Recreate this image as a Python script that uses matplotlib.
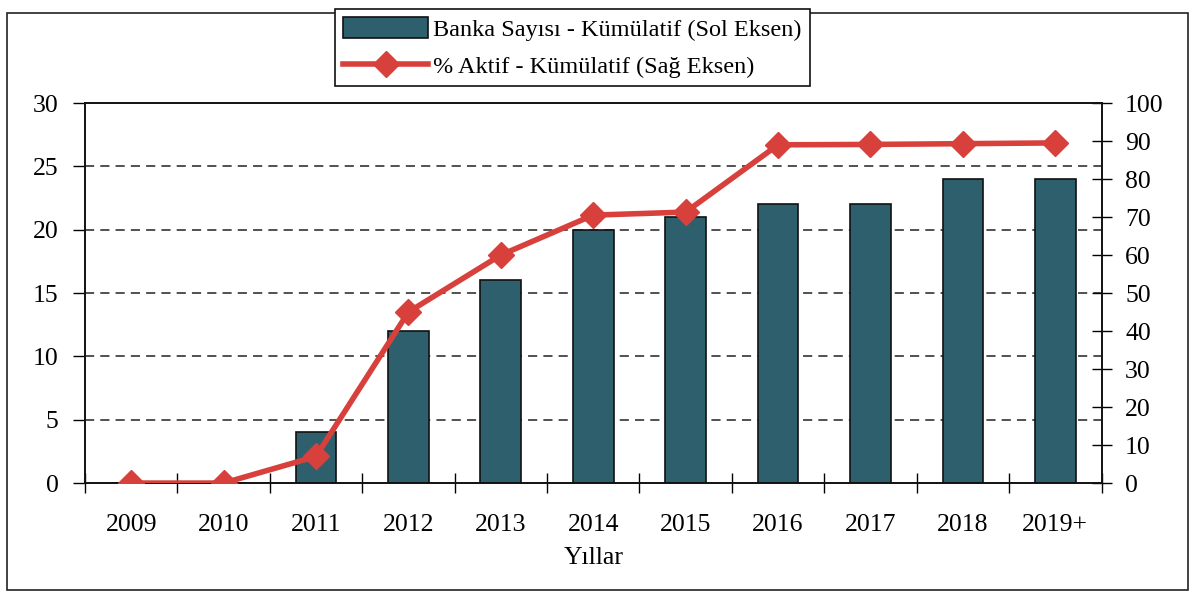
import numpy as np
import matplotlib.pyplot as plt
from matplotlib.patches import Rectangle

plt.rcParams['font.family'] = ['Liberation Serif', 'DejaVu Serif']

years = ['2009', '2010', '2011', '2012', '2013', '2014', '2015', '2016', '2017', '2018', '2019+']
bank_count = [0, 0, 4, 12, 16, 20, 21, 22, 22, 24, 24]          # left axis
asset_share = [0, 0, 7, 45, 60, 70.5, 71.3, 89.0, 89.1, 89.3, 89.5]  # right axis, %

bar_color = '#2e5f6d'
line_color = '#d8403c'

fig = plt.figure(figsize=(11.96, 5.92), dpi=100)
ax = fig.add_axes([0.071, 0.184, 0.850, 0.642])
ax2 = ax.twinx()

x = np.arange(len(years))
bars = ax.bar(x, bank_count, width=0.44, color=bar_color, edgecolor='#111111', linewidth=1.2,
              label='Banka Sayısı - Kümülatif (Sol Eksen)', zorder=2)

ax.set_xlim(-0.5, len(years) - 0.5)
ax.set_ylim(0, 30)
ax.set_yticks(range(0, 31, 5))
for v in range(5, 30, 5):
    ax.axhline(v, color='#222222', linestyle=(0, (6, 4)), linewidth=1.1, zorder=1)

ax.set_xticks(x)
ax.set_xticklabels(years)
ax.set_xticks(np.arange(-0.5, len(years)), minor=True)
ax.tick_params(axis='x', which='major', length=0, pad=22, labelsize=18.5)
ax.tick_params(axis='x', which='minor', direction='inout', length=14, width=1)
ax.tick_params(axis='y', direction='out', length=9, width=1, labelsize=18.5, pad=10)
ax.set_xlabel('Yıllar', fontsize=18.5, labelpad=8)

ln, = ax2.plot(x, asset_share, color=line_color, linewidth=4, marker='D',
               markersize=13, markerfacecolor=line_color, markeredgecolor=line_color,
               label='% Aktif - Kümülatif (Sağ Eksen)', zorder=3)
ax2.set_ylim(0, 100)
ax2.set_yticks(range(0, 101, 10))
ax2.tick_params(axis='y', direction='inout', length=14, width=1, labelsize=18.5, pad=10)

for a in (ax, ax2):
    for s in a.spines.values():
        s.set_color('#111111')
        s.set_linewidth(1.2)

# outer frame around the whole chart
fig.patches.append(Rectangle((0.006, 0.004), 0.987, 0.974, transform=fig.transFigure,
                             fill=False, edgecolor='#222222', linewidth=1.2, zorder=1))

handles = [bars, ln]
leg = fig.legend(handles, [bars.get_label(), ln.get_label()],
                 loc='center', bbox_to_anchor=(0.2776, 0.851, 0.402, 0.137),
                 fontsize=17.5, frameon=True, fancybox=False, edgecolor='#111111',
                 framealpha=1, handlelength=3.5, handleheight=0.9, labelspacing=0.55,
                 borderpad=0.35, handletextpad=0.2)
leg.get_frame().set_linewidth(1.2)
leg.set_zorder(10)

fig.savefig('out.png', dpi=100, facecolor='white')
